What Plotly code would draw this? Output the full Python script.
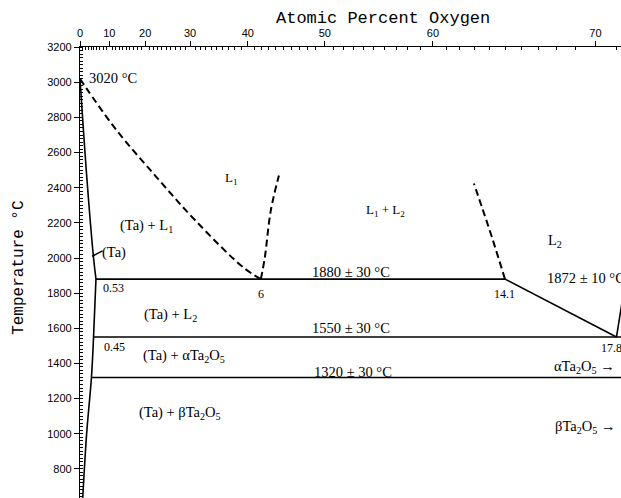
import plotly.graph_objects as go

# Ta–O phase diagram (temperature vs weight percent oxygen, atomic % on top axis)

# Atomic mass values used for the top-axis conversion
M_TA = 180.948
M_O = 15.999

# Top axis: atomic percent oxygen tick labels
at_major = [0, 10, 20, 30, 40, 50, 60, 70]
at_minor = [a for a in range(1, 73) if a % 10 != 0]

# Phase boundaries, (wt% O, °C)
solidus_ta_x = [0.0, 0.23, 0.45, 0.53]
solidus_ta_y = [3020, 2450, 2000, 1880]

solvus_ta_x = [0.53, 0.45, 0.38, 0.22, 0.08]
solvus_ta_y = [1880, 1550, 1320, 1000, 600]

liquidus_l1_x = [0.0, 0.22, 1.2, 2.55, 3.83, 5.42, 6.0]
liquidus_l1_y = [3020, 2964, 2730, 2458, 2213, 1946, 1880]

gap_left_x = [6.0, 6.13, 6.33, 6.6]
gap_left_y = [1880, 2000, 2270, 2470]

gap_right_x = [14.1, 13.67, 13.34, 13.07]
gap_right_y = [1880, 2117, 2287, 2424]

liquidus_l2_x = [14.1, 17.8]
liquidus_l2_y = [1880, 1550]

liquidus_ox_x = [17.8, 18.1]
liquidus_ox_y = [1550, 1872]

monotectic_x = [0.53, 14.1]
monotectic_y = [1880, 1880]

eutectic_x = [0.45, 18.1]
eutectic_y = [1550, 1550]

transition_x = [0.38, 18.1]
transition_y = [1320, 1320]


def at_to_wt(a):
    mo = M_O * a
    return 100.0 * mo / (mo + M_TA * (100.0 - a))


fig = go.Figure()

solid = dict(color="black", width=1.6)
dashed = dict(color="black", width=2, dash="7px,4px")

for xs, ys, ln in [
    (solidus_ta_x, solidus_ta_y, solid),
    (solvus_ta_x, solvus_ta_y, solid),
    (liquidus_l1_x, liquidus_l1_y, dashed),
    (gap_left_x, gap_left_y, dashed),
    (gap_right_x, gap_right_y, dashed),
    (liquidus_l2_x, liquidus_l2_y, solid),
    (liquidus_ox_x, liquidus_ox_y, solid),
    (monotectic_x, monotectic_y, solid),
    (eutectic_x, eutectic_y, solid),
    (transition_x, transition_y, solid),
]:
    fig.add_trace(go.Scatter(x=xs, y=ys, mode="lines", line=ln,
                             line_shape="spline", hoverinfo="skip",
                             showlegend=False))

# leader line for the (Ta) field label
fig.add_shape(type="line", x0=0.40, y0=2010, x1=0.75, y1=2040,
              line=dict(color="black", width=1.4))

SERIF = "Liberation Serif, Times New Roman, serif"


def label(text, x, y, size=14.5, xanchor="center"):
    fig.add_annotation(x=x, y=y, xref="x", yref="y", text=text,
                       showarrow=False, xanchor=xanchor, yanchor="middle",
                       font=dict(family=SERIF, size=size, color="black"))


label("3020 °C", 0.23, 3027, xanchor="left")
label("L<sub>1</sub>", 5.04, 2452, size=13)
label("L<sub>1</sub> + L<sub>2</sub>", 10.12, 2270, size=13)
label("L<sub>2</sub>", 15.76, 2099)
label("(Ta) + L<sub>1</sub>", 1.25, 2185, xanchor="left")
label("(Ta)", 0.66, 2031, xanchor="left")
label("0.53", 1.11, 1832, size=12)
label("6", 6.0, 1798, size=12)
label("14.1", 14.1, 1798, size=12)
label("17.8", 17.65, 1485, size=12)
label("1880 ± 30 °C", 8.99, 1923)
label("1872 ± 10 °C", 15.43, 1889, xanchor="left")
label("(Ta) + L<sub>2</sub>", 2.99, 1673)
label("1550 ± 30 °C", 8.99, 1604)
label("0.45", 1.16, 1491, size=12)
label("(Ta) + αTa<sub>2</sub>O<sub>5</sub>", 3.45, 1440)
label("1320 ± 30 °C", 9.06, 1354)
label("αTa<sub>2</sub>O<sub>5</sub> →", 17.82, 1377, xanchor="right")
label("(Ta) + βTa<sub>2</sub>O<sub>5</sub>", 3.32, 1115)
label("βTa<sub>2</sub>O<sub>5</sub> →", 17.82, 1036, xanchor="right")

MONO = "Liberation Mono, Courier New, monospace"
fig.add_annotation(text="Atomic Percent Oxygen", x=0.56, y=1.064,
                   xref="paper", yref="paper", showarrow=False,
                   xanchor="center", yanchor="middle",
                   font=dict(family=MONO, size=17, color="black"))
fig.add_annotation(text="Temperature °C", x=-0.113, y=0.51,
                   xref="paper", yref="paper", showarrow=False,
                   textangle=-90, xanchor="center", yanchor="middle",
                   font=dict(family=MONO, size=16, color="black"))

fig.update_xaxes(
    side="top", range=[0, 17.95], showgrid=False, zeroline=False,
    showline=True, linecolor="black", linewidth=1.2, mirror=False,
    tickmode="array", tickvals=[at_to_wt(a) for a in at_major],
    ticktext=[str(a) for a in at_major],
    ticks="outside", ticklen=5, tickwidth=1, tickcolor="black",
    tickfont=dict(family="Liberation Sans, Arial, sans-serif", size=11, color="black"),
    minor=dict(tickvals=[at_to_wt(a) for a in at_minor], ticks="inside",
               ticklen=3, tickwidth=1, tickcolor="black"),
)
fig.update_yaxes(
    range=[634, 3201], showgrid=False, zeroline=False,
    showline=True, linecolor="black", linewidth=1.2,
    tick0=800, dtick=200,
    ticks="outside", ticklen=5, tickwidth=1, tickcolor="black",
    tickfont=dict(family="Liberation Sans, Arial, sans-serif", size=11, color="black"),
    minor=dict(dtick=20, ticks="inside", ticklen=3, tickwidth=1, tickcolor="black"),
)

fig.update_layout(
    width=621, height=498,
    margin=dict(l=80, r=0, t=47, b=0),
    plot_bgcolor="white", paper_bgcolor="white",
    showlegend=False,
)

fig.write_html("out.html")
